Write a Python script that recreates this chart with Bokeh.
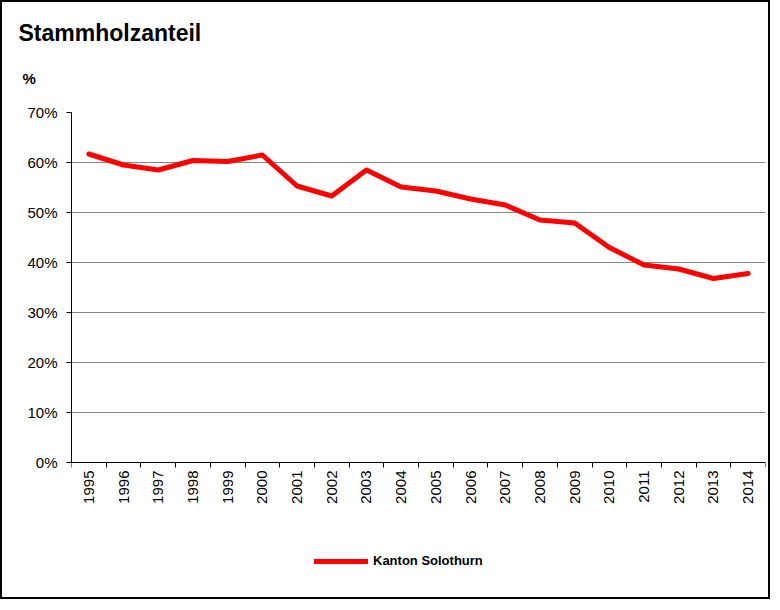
import math
from bokeh.plotting import figure
from bokeh.models import Range1d, FixedTicker, PrintfTickFormatter, Title, Legend, LegendItem
from bokeh.embed import file_html
from bokeh.resources import INLINE

# ---- data ----
years = ["1995", "1996", "1997", "1998", "1999", "2000", "2001", "2002", "2003", "2004",
         "2005", "2006", "2007", "2008", "2009", "2010", "2011", "2012", "2013", "2014"]
stammholz_pct = [61.7, 59.5, 58.5, 60.4, 60.2, 61.5, 55.3, 53.3, 58.5, 55.1,
                 54.3, 52.7, 51.5, 48.5, 47.9, 43.0, 39.5, 38.7, 36.8, 37.8]
y_ticks = [0, 10, 20, 30, 40, 50, 60, 70]
title_text = "Stammholzanteil"
unit_text = "%"
series_name = "Kanton Solothurn"

FONT = "Liberation Sans"
x_idx = list(range(len(years)))

# the frame reaches down to the bottom of the chart so that the legend below the
# axis is not clipped; the x axis sits at 0 % and the y axis only spans 0..70 %
PX_PER_UNIT = 350 / (y_ticks[-1] - y_ticks[0])
FRAME_H = 485
y_low = y_ticks[-1] - FRAME_H / PX_PER_UNIT

p = figure(frame_width=694, frame_height=FRAME_H, output_backend="svg", toolbar_location=None,
           x_range=Range1d(-0.5, len(years) - 0.5), y_range=Range1d(y_low, y_ticks[-1]),
           min_border_left=69, min_border_right=3, min_border_top=110, min_border_bottom=0)
p.styles = {"border": "2px solid black"}
p.background_fill_color = "white"
p.border_fill_color = "white"
p.outline_line_color = None

r = p.line(x_idx, stammholz_pct, line_color="#FF0000", line_width=5,
           line_join="round", line_cap="round")

# x axis: labels at category centres, ticks at category boundaries
xa = p.xaxis[0]
xa.fixed_location = y_ticks[0]
xa.ticker = FixedTicker(ticks=x_idx, minor_ticks=[i - 0.5 for i in range(len(years) + 1)])
xa.major_label_overrides = {i: y for i, y in zip(x_idx, years)}
xa.major_label_orientation = math.pi / 2
xa.major_tick_out = 0
xa.major_tick_in = 0
xa.minor_tick_out = 5
xa.minor_tick_in = 0
xa.major_label_standoff = 3
xa.major_label_text_font = FONT
xa.major_label_text_font_size = "15px"
xa.major_label_text_color = "black"
xa.axis_line_color = "black"
xa.minor_tick_line_color = "black"

ya = p.yaxis[0]
ya.bounds = (y_ticks[0], y_ticks[-1])
ya.ticker = FixedTicker(ticks=y_ticks, minor_ticks=[])
ya.formatter = PrintfTickFormatter(format="%d%%")
ya.major_tick_out = 5
ya.major_tick_in = 0
ya.minor_tick_out = 0
ya.minor_tick_in = 0
ya.major_label_standoff = 9
ya.major_label_text_font = FONT
ya.major_label_text_font_size = "15px"
ya.major_label_text_color = "black"
ya.axis_line_color = "black"
ya.major_tick_line_color = "black"

p.xgrid.visible = False
p.ygrid.ticker = FixedTicker(ticks=y_ticks)
p.ygrid.grid_line_color = "#868686"
p.ygrid.grid_line_width = 1

p.title.text = title_text
p.title.text_font = FONT
p.title.text_font_style = "bold"
p.title.text_font_size = "23px"
p.title.text_color = "black"
p.title.align = "left"
p.title.offset = -53
p.title.standoff = -8

unit_title = Title(text=unit_text, text_font=FONT, text_font_style="bold", text_color="black",
                   text_font_size="15px", align="left", offset=-49, standoff=52)
p.add_layout(unit_title, "above")

legend = Legend(items=[LegendItem(label=series_name, renderers=[r])], location=(243, 29),
                orientation="horizontal",
                glyph_width=54, glyph_height=14, label_height=14, label_standoff=5,
                padding=0, margin=0, spacing=0, border_line_color=None,
                background_fill_alpha=0, label_text_font=FONT, label_text_font_style="bold",
                label_text_font_size="13px", label_text_color="black")
p.add_layout(legend)

open("out.html", "w").write(file_html(p, INLINE))
